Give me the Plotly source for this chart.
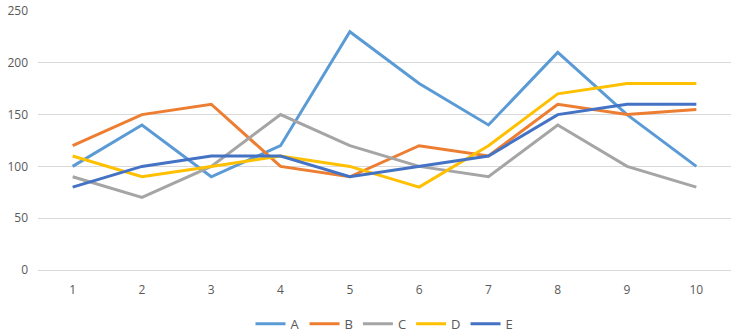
import plotly.graph_objects as go

categories = [1, 2, 3, 4, 5, 6, 7, 8, 9, 10]
series_names = ["A", "B", "C", "D", "E"]
A = [100, 140, 90, 120, 230, 180, 140, 210, 150, 100]
B = [120, 150, 160, 100, 90, 120, 110, 160, 150, 155]
C = [90, 70, 100, 150, 120, 100, 90, 140, 100, 80]
D = [110, 90, 100, 110, 100, 80, 120, 170, 180, 180]
E = [80, 100, 110, 110, 90, 100, 110, 150, 160, 160]
colors = ["#5B9BD5", "#ED7D31", "#A5A5A5", "#FFC000", "#4472C4"]

fig = go.Figure()
for name, vals, col in zip(series_names, [A, B, C, D, E], colors):
    fig.add_trace(go.Scatter(x=categories, y=vals, name=name, mode="lines",
                             line=dict(color=col, width=3)))

font = dict(family="Open Sans, Liberation Sans, sans-serif", size=12, color="#595959")
fig.update_layout(
    width=744, height=336,
    margin=dict(l=38, r=13, t=11, b=66, autoexpand=False),
    paper_bgcolor="white", plot_bgcolor="white",
    font=font,
    showlegend=True,
    legend=dict(orientation="h", x=0.5, xanchor="center", y=-0.208, yanchor="middle",
                font=dict(size=13, color="#595959"), tracegroupgap=0),
    xaxis=dict(range=[0.5, 10.5], tickvals=categories, ticktext=[str(c) for c in categories],
               showgrid=False, zeroline=False, showline=True, linecolor="#D9D9D9", linewidth=1,
               ticks="", automargin=False, ticklabelstandoff=9,
               tickfont=dict(size=12, color="#595959")),
    yaxis=dict(range=[0, 250], dtick=50, showgrid=True, gridcolor="#D9D9D9", gridwidth=1,
               zeroline=False, showline=False, ticks="", automargin=False, ticklabelstandoff=9,
               tickfont=dict(size=12, color="#595959")),
)
fig.write_html("out.html")
